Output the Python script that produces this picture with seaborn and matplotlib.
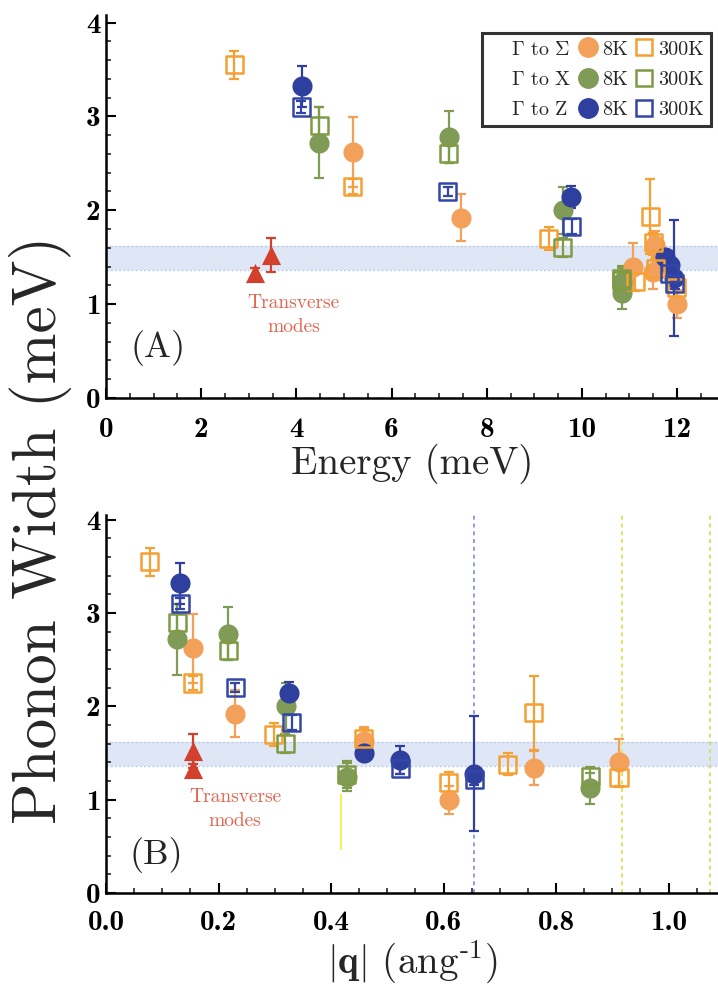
import matplotlib
matplotlib.use("Agg")
import numpy as np
import pandas as pd
import matplotlib.pyplot as plt
from matplotlib.lines import Line2D
from matplotlib.ticker import MultipleLocator
import seaborn as sns

# ---- values ----
# Gamma to Sigma, 8K (filled circles)
sig8_q = [0.155, 0.230, 0.458, 0.609, 0.760, 0.912]
sig8_E = [5.18, 7.46, 11.53, 12.00, 11.50, 11.08]
sig8_W = [2.62, 1.92, 1.63, 1.00, 1.34, 1.40]
sig8_err = [0.37, 0.25, 0.15, 0.15, 0.18, 0.25]
# Gamma to Sigma, 300K (open squares)
sig300_q = [0.078, 0.154, 0.298, 0.458, 0.609, 0.714, 0.760, 0.912]
sig300_E = [2.70, 5.18, 9.30, 11.50, 11.99, 11.55, 11.44, 11.12]
sig300_W = [3.55, 2.25, 1.70, 1.66, 1.18, 1.38, 1.93, 1.24]
sig300_err = [0.15, 0.08, 0.12, 0.10, 0.12, 0.12, 0.40, 0.10]
# Gamma to X
x8_q = [0.127, 0.217, 0.320, 0.428, 0.861]
x8_E = [4.48, 7.20, 9.60, 10.84, 10.84]
x8_W = [2.72, 2.78, 2.00, 1.24, 1.12]
x8_err = [0.38, 0.28, 0.25, 0.15, 0.17]
x300_q = [0.127, 0.217, 0.319, 0.428, 0.861]
x300_E = [4.48, 7.20, 9.60, 10.84, 10.84]
x300_W = [2.90, 2.60, 1.60, 1.27, 1.25]
x300_err = [0.20, 0.10, 0.10, 0.14, 0.10]
# Gamma to Z
z8_q = [0.132, 0.326, 0.458, 0.523, 0.655]
z8_E = [4.12, 9.78, 11.75, 11.85, 11.93]
z8_W = [3.32, 2.14, 1.50, 1.42, 1.28]
z8_err = [0.22, 0.12, 0.08, 0.15, 0.62]
z300_q = [0.132, 0.230, 0.330, 0.523, 0.655]
z300_E = [4.10, 7.18, 9.79, 11.85, 11.95]
z300_W = [3.10, 2.20, 1.83, 1.33, 1.22]
z300_err = [0.06, 0.05, 0.08, 0.06, 0.06]
# transverse modes
tr_q = [0.155, 0.155]
tr_E = [3.14, 3.47]
tr_W = [1.33, 1.52]
tr_err = [0.05, 0.18]

band_lo, band_hi = 1.36, 1.62
zone_q = [0.655, 0.917, 1.073]
zone_colors = ["#8e9ee4", "#e6e45a", "#d6e06a"]

dir_colors = {"Sigma": "#f3a15a", "X": "#7f9b55", "Z": "#2f3f9d"}
sq_colors = {"Sigma": "#f5a033", "X": "#7f9b45", "Z": "#3346a8"}
red = "#d3412e"

frames = []
for d, t, q, E, W, e in [
    ("Sigma", "8K", sig8_q, sig8_E, sig8_W, sig8_err),
    ("Sigma", "300K", sig300_q, sig300_E, sig300_W, sig300_err),
    ("X", "8K", x8_q, x8_E, x8_W, x8_err),
    ("X", "300K", x300_q, x300_E, x300_W, x300_err),
    ("Z", "8K", z8_q, z8_E, z8_W, z8_err),
    ("Z", "300K", z300_q, z300_E, z300_W, z300_err),
]:
    frames.append(pd.DataFrame({"dir": d, "temp": t, "q": q, "E": E, "W": W, "err": e}))
df = pd.concat(frames, ignore_index=True)
tr = pd.DataFrame({"q": tr_q, "E": tr_E, "W": tr_W, "err": tr_err})

sns.set_theme(style="ticks")
plt.rcParams["font.family"] = ["cmr10", "DejaVu Serif"]
plt.rcParams["mathtext.fontset"] = "cm"
plt.rcParams["axes.unicode_minus"] = False
plt.rcParams["axes.formatter.use_mathtext"] = True

fig = plt.figure(figsize=(7.18, 9.93), dpi=100)
axA = fig.add_axes([106 / 718, 1 - 398 / 993, 1 - 106 / 718, (398 - 15) / 993])
axB = fig.add_axes([106 / 718, 1 - 893 / 993, 1 - 106 / 718, (893 - 515) / 993])


def draw_panel(ax, xcol):
    ax.axhspan(band_lo, band_hi, color="#dfe7f6", lw=0, zorder=0)
    for yb in (band_lo, band_hi):
        ax.axhline(yb, color="#bccdec", ls=(0, (1.5, 1.5)), lw=1, zorder=0)
    for (d, t), g in df.groupby(["dir", "temp"], sort=False):
        col = dir_colors[d] if t == "8K" else sq_colors[d]
        ax.errorbar(g[xcol], g["W"], yerr=g["err"], fmt="none", ecolor=col,
                    elinewidth=1.6, capsize=3.5, capthick=1.6, zorder=2)
        if t == "8K":
            sns.scatterplot(x=g[xcol], y=g["W"], ax=ax, marker="o", s=210,
                            color=col, edgecolor=col, linewidth=0, zorder=3,
                            legend=False)
        else:
            sns.scatterplot(x=g[xcol], y=g["W"], ax=ax, marker="s", s=150,
                            color=col, facecolor="none", edgecolor=col,
                            linewidth=1.8, zorder=4, legend=False)
    ax.errorbar(tr[xcol], tr["W"], yerr=tr["err"], fmt="none", ecolor=red,
                elinewidth=1.6, capsize=3.5, capthick=1.6, zorder=2)
    sns.scatterplot(x=tr[xcol], y=tr["W"], ax=ax, marker="^", s=190, color=red,
                    edgecolor=red, linewidth=0, zorder=3, legend=False)


def style_axis(ax, xmajor, xminor, xfmt, xpad):
    sns.despine(ax=ax)
    for s in ("left", "bottom"):
        ax.spines[s].set_linewidth(1.8)
        ax.spines[s].set_color("black")
    ax.xaxis.set_major_locator(MultipleLocator(xmajor))
    ax.xaxis.set_minor_locator(MultipleLocator(xminor))
    ax.yaxis.set_major_locator(MultipleLocator(1))
    ax.yaxis.set_minor_locator(MultipleLocator(0.2))
    ax.tick_params(which="major", direction="in", length=7, width=1.5,
                   labelsize=21, pad=4, colors="black")
    ax.tick_params(axis="x", which="major", pad=xpad)
    ax.tick_params(which="minor", direction="in", length=3.5, width=1.2)
    ax.xaxis.set_major_formatter(xfmt)
    ax.yaxis.set_major_formatter(lambda v, p: f"{v:.0f}")
    for lab in ax.get_xticklabels() + ax.get_yticklabels():
        lab.set_family("cmb10")


# panel A: energy
draw_panel(axA, "E")
axA.set_xlim(0, 12.86)
axA.set_ylim(0, 4.08)
style_axis(axA, 2, 0.5, lambda v, p: f"{v:.0f}", 14)
axA.set_xlabel("Energy (meV)", fontsize=28, labelpad=0)
axA.set_ylabel("")
axA.text(1.1, 0.53, "(A)", fontsize=26, ha="center", va="center")
axA.text(3.94, 0.88, "Transverse\nmodes", fontsize=14, color="#e2644e",
         ha="center", va="center", linespacing=1.45)

blank = Line2D([], [], ls="none")
handles = [blank] * 3
for d in ["Sigma", "X", "Z"]:
    handles.append(Line2D([], [], ls="none", marker="o", markersize=14,
                          markerfacecolor=dir_colors[d], markeredgecolor=dir_colors[d]))
for d in ["Sigma", "X", "Z"]:
    handles.append(Line2D([], [], ls="none", marker="s", markersize=12,
                          markerfacecolor="none", markeredgecolor=sq_colors[d],
                          markeredgewidth=1.8))
labels = [r"$\Gamma$ to $\Sigma$", r"$\Gamma$ to X", r"$\Gamma$ to Z"] + ["8K"] * 3 + ["300K"] * 3
leg = axA.legend(handles, labels, ncol=3, loc="upper right",
                 bbox_to_anchor=(0.988, 0.952), fontsize=14.5, frameon=True,
                 fancybox=False, handlelength=0.8, handletextpad=0.3,
                 columnspacing=0.4, labelspacing=0.6, borderpad=0.35,
                 borderaxespad=0)
leg.get_frame().set_edgecolor("black")
leg.get_frame().set_linewidth(2.2)

# panel B: momentum
for qz, cz in zip(zone_q, zone_colors):
    axB.axvline(qz, color=cz, ls=(0, (2, 2)), lw=1.4, zorder=1)
axB.vlines([0.418], [0.46], [1.06], color="#f2ee3a", lw=1.2, zorder=1)
draw_panel(axB, "q")
axB.set_xlim(0, 1.088)
axB.set_ylim(0, 4.05)
style_axis(axB, 0.2, 0.05, lambda v, p: f"{v:.1f}", 12)
axB.set_xlabel(r"$|\mathbf{q}|$ (ang$^{\text{-}1}$)", fontsize=28, labelpad=2)
axB.set_ylabel("")
axB.text(0.09, 0.41, "(B)", fontsize=26, ha="center", va="center")
axB.text(0.2295, 0.90, "Transverse\nmodes", fontsize=14, color="#e2644e",
         ha="center", va="center", linespacing=1.45)

fig.text(0.056, 0.466, "Phonon Width (meV)", rotation=90, fontsize=44,
         ha="center", va="center")

fig.savefig("out.png", dpi=100)
